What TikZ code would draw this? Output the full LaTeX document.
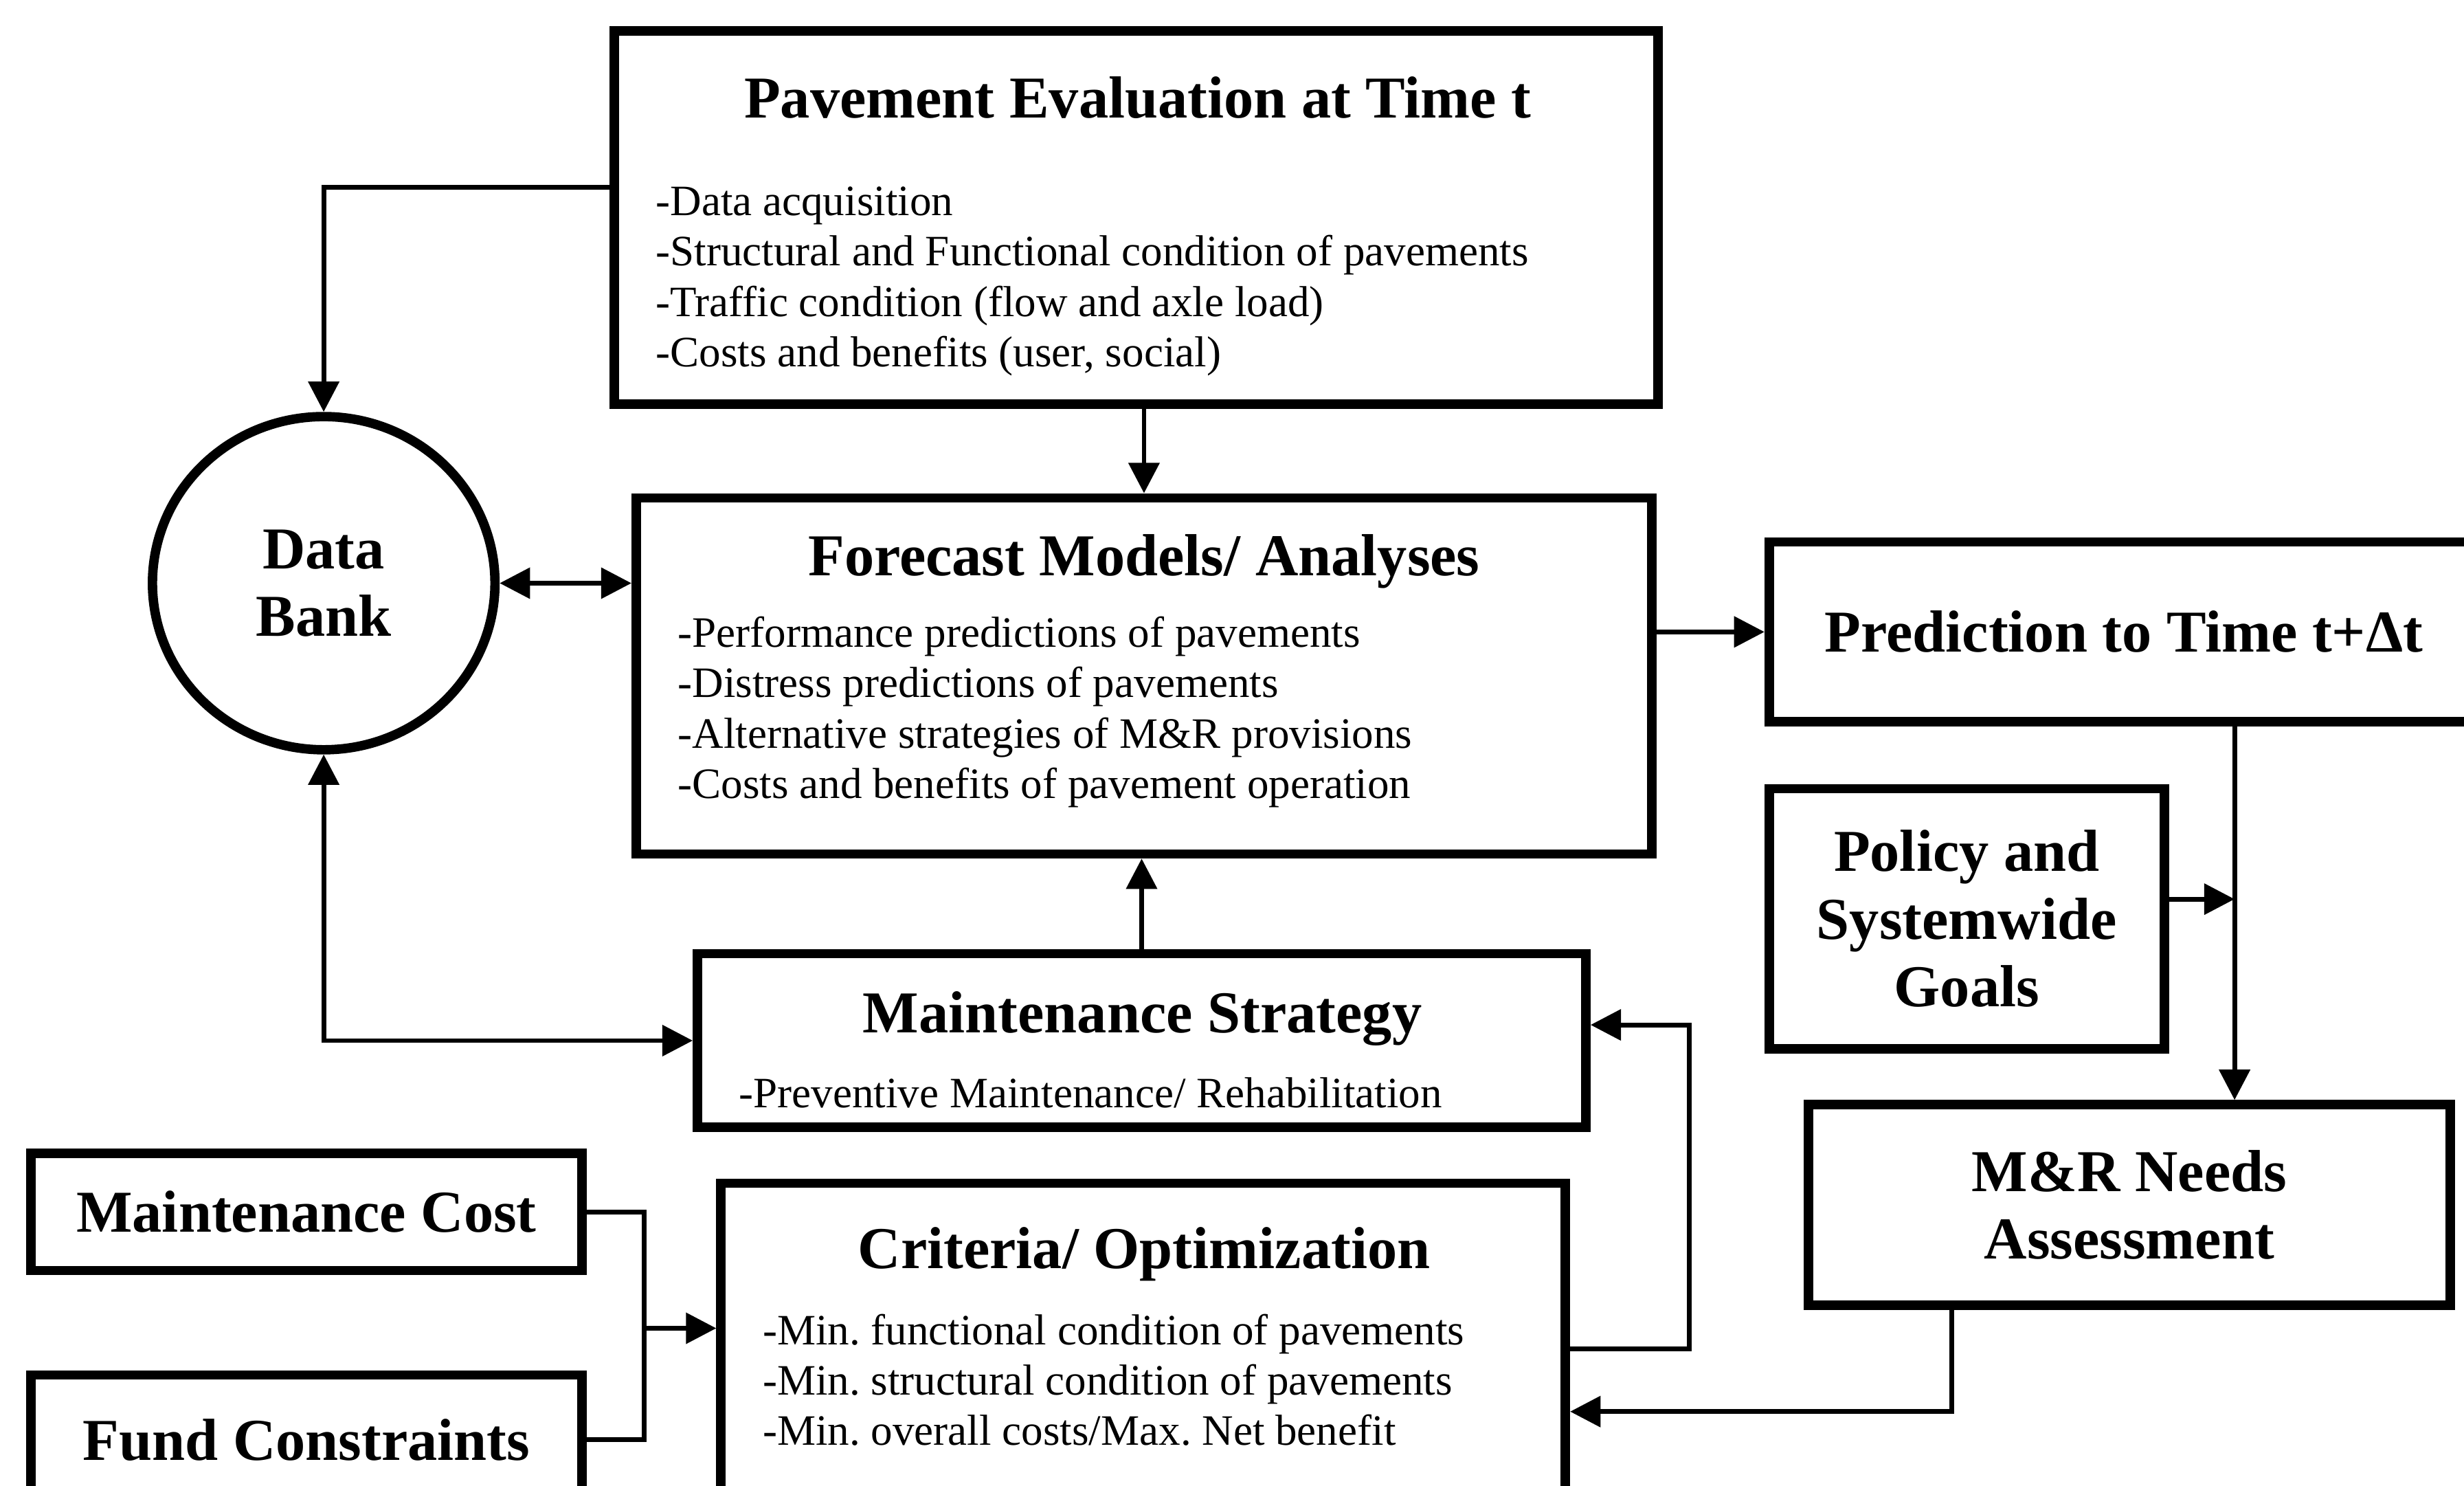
\documentclass[tikz,border=0pt]{standalone}
\usepackage{fontspec}
\setmainfont{Liberation Serif}
\usetikzlibrary{arrows.meta,shapes.geometric}
\frenchspacing

\begin{document}
\begin{tikzpicture}[x=0.02cm,y=-0.02cm,
    >={Triangle[length=11pt,width=11pt]},
    box/.style={draw,line width=3.4pt,inner sep=0pt,align=center,
      font=\fontsize{21.5}{24.5}\selectfont\bfseries},
    ttl/.style={font=\fontsize{21.5}{24.5}\selectfont\bfseries,align=center,inner sep=0pt},
    txt/.style={font=\fontsize{15.7}{18.2}\selectfont,align=left,anchor=west,inner sep=0pt},
    conn/.style={line width=1.7pt}]
    \useasboundingbox (0,0) rectangle (1568,945);
    \clip (0,0) rectangle (1568,945);

    \node[box,minimum width=13.29cm,minimum height=4.75cm] (eval) at (723,138.5) {};
    \node[ttl] (evalt) at (724,62) {Pavement Evaluation at Time t};
    \node[txt] (evall) at (417,179) {-Data acquisition\\-Structural and Functional condition of pavements\\-Traffic condition (flow and axle load)\\-Costs and benefits (user, social)};

    \node[box,minimum width=12.93cm,minimum height=4.53cm] (fore) at (728,430) {};
    \node[ttl] (foret) at (728,357) {Forecast Models/ Analyses};
    \node[txt] (forel) at (431,453) {-Performance predictions of pavements\\-Distress predictions of pavements\\-Alternative strategies of M\&R provisions\\-Costs and benefits of pavement operation};

    \node[box,minimum width=9.03cm,minimum height=2.29cm] (pred) at (1351.5,402) {Prediction to Time t+Δt};
    \node[box,minimum width=5.03cm,minimum height=3.31cm] (pol) at (1251.5,584.5) {Policy and\\Systemwide\\Goals};
    \node[box,minimum width=8.17cm,minimum height=2.55cm] (need) at (1355,766.5) {M\&R Needs\\Assessment};

    \node[box,minimum width=11.31cm,minimum height=2.21cm] (strat) at (726.5,662) {};
    \node[ttl] (stratt) at (727,648) {Maintenance Strategy};
    \node[txt] (stratl) at (470,695) {-Preventive Maintenance/ Rehabilitation};

    \node[box,minimum width=7.01cm,minimum height=1.49cm] (mcost) at (195,771) {Maintenance Cost};
    \node[box,minimum width=7.01cm,minimum height=1.65cm] (fund) at (195,916) {Fund Constraints};

    \node[box,minimum width=10.75cm,minimum height=4.69cm] (crit) at (727.5,870) {};
    \node[ttl] (critt) at (728,798) {Criteria/ Optimization};
    \node[txt] (critl) at (485,878) {-Min. functional condition of pavements\\-Min. structural condition of pavements\\-Min. overall costs/Max. Net benefit};

    \node[box,ellipse,minimum width=4.36cm,minimum height=4.24cm] (bank) at (206,371) {Data\\Bank};

    % connectors
    \draw[conn,->] ([yshift=0.39cm]eval.west) -| (bank.north);
    \draw[conn,->] (eval.south -| fore.north) -- (fore.north);
    \draw[conn,<->] (bank.east) -- (bank.east -| fore.west);
    \draw[conn,->] (fore.east |- pred.west) -- (pred.west);
    \coordinate (jn) at (1422,572);
    \draw[conn,->] (pred.south -| jn) -- (need.north -| jn);
    \draw[conn,->] (pol.east |- jn) -- (jn);
    \coordinate (nb) at (1242,898);
    \draw[conn,->] (need.south -| nb) |- (crit.east |- nb);
    \coordinate (fb1) at (1075,858);
    \coordinate (fb2) at (1075,652);
    \draw[conn,->] (crit.east |- fb1) -- (fb1) -- (fb2) -- (strat.east |- fb2);
    \draw[conn,->] (strat.north) -- (fore.south -| strat.north);
    \draw[conn,<->] (bank.south) |- (strat.west);
    \coordinate (mj) at (410,845);
    \draw[conn] (mcost.east) -| (mj);
    \draw[conn] (fund.east) -| (mj);
    \draw[conn,->] (mj) -- (crit.west |- mj);
\end{tikzpicture}
\end{document}
